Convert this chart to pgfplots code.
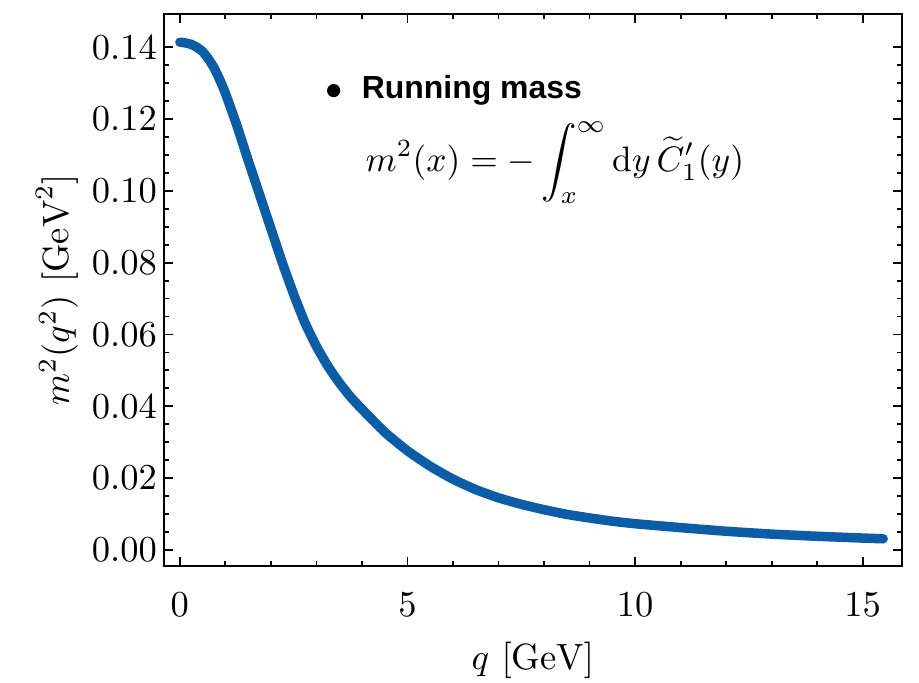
\documentclass[border=0pt]{standalone}
\usepackage{fontspec}
\usepackage{pgfplots}
\pgfplotsset{compat=1.18}
\newfontfamily\legfont{Liberation Sans}
\definecolor{sciblue}{HTML}{0C5DA5}

\pgfplotstableread{
x y
0.000 0.1414
0.125 0.1412
0.250 0.1408
0.375 0.1400
0.500 0.1388
0.625 0.1368
0.750 0.1343
0.875 0.1310
1.00 0.1272
1.25 0.1183
1.50 0.1085
1.75 0.0990
2.00 0.0895
2.25 0.0800
2.50 0.0712
2.75 0.0632
3.00 0.0567
3.25 0.0512
3.50 0.0466
3.75 0.0426
4.00 0.0392
4.50 0.0328
5.00 0.0276
5.50 0.0233
6.00 0.0197
6.50 0.0168
7.00 0.0145
7.50 0.0127
8.00 0.0112
8.50 0.0099
9.00 0.0089
9.50 0.0080
10.00 0.0073
11.00 0.0062
12.00 0.0052
13.00 0.0044
14.00 0.0038
15.00 0.0033
15.45 0.0031
}\datatable

\begin{document}
\begin{tikzpicture}
\begin{axis}[
  scale only axis, width=202.1pt, height=151.2pt,
  xmin=-0.35, xmax=15.86, ymin=-0.00446, ymax=0.1493,
  xtick={0,5,10,15},
  ytick={0,0.02,0.04,0.06,0.08,0.1,0.12,0.14},
  minor x tick num=4, minor y tick num=3,
  tick align=inside,
  major tick length=2.55pt, minor tick length=1.45pt,
  axis line style={line width=0.5pt, black},
  every tick/.style={black, line width=0.5pt},
  scaled y ticks=false,
  yticklabel style={/pgf/number format/fixed, /pgf/number format/fixed zerofill, /pgf/number format/precision=2},
  every x tick label/.append style={yshift=-3.8pt},
  every y tick label/.append style={xshift=1.6pt},
  every axis x label/.style={at={(rel axis cs:0.5,0)}, yshift=-25.8pt, anchor=center},
  every axis y label/.style={at={(rel axis cs:0,0.5)}, xshift=-29.3pt, rotate=90, anchor=center},
  xlabel={$q\ [\mathrm{GeV}]$},
  ylabel={$m^2(q^2)\ [\mathrm{GeV}^2]$},
  legend style={at={(rel axis cs:0.2201,0.863)}, anchor=west, draw=none, fill=none,
    inner sep=0pt, nodes={inner sep=0pt},
    font=\legfont\bfseries\fontsize{8.75}{10}\selectfont},
  legend image code/.code={\fill[black] (0pt,-0.3pt) circle (1.6pt); \path[draw=none,fill=none] (-1.6pt,0pt) -- (7.7pt,0pt);},
  clip=false,
]
\addplot[forget plot, color=sciblue, line width=2.6pt, line cap=round, line join=round, smooth, tension=0.3] table[x=x, y=y] {\datatable};
\addlegendimage{only marks, black}
\addlegendentry{Running mass}
\node[anchor=base west, inner sep=0pt, scale=0.97] at (rel axis cs:0.2725,0.7143)
  {$\displaystyle m^2(x) = -\int_x^\infty \mathrm{d}y\, \widetilde{C}'_1(y)$};
\end{axis}
\pgfresetboundingbox
\path ([shift={(-44.9pt,-31.8pt)}]current axis.south west) rectangle ([shift={(4.7pt,3.8pt)}]current axis.north east);
\end{tikzpicture}
\end{document}
